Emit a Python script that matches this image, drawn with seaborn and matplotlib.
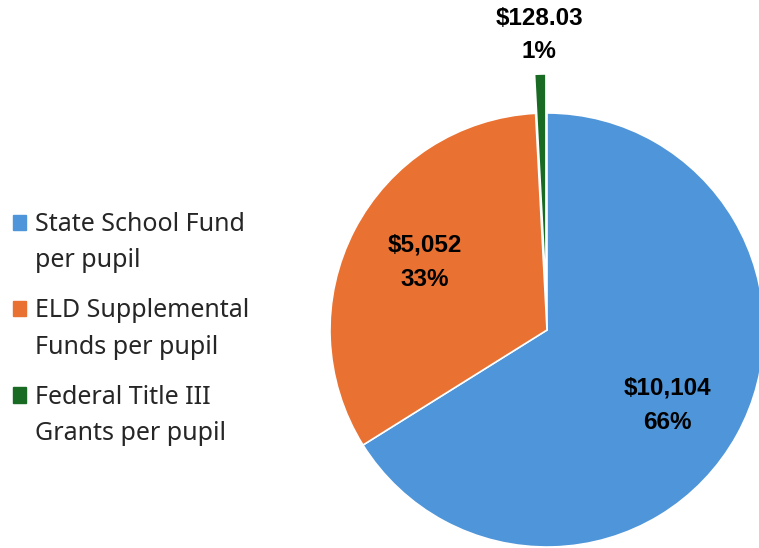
import matplotlib.pyplot as plt
import seaborn as sns
import numpy as np
from matplotlib.legend_handler import HandlerPatch

sns.set_theme(style="white")
plt.rcParams["font.family"] = ["Noto Sans", "DejaVu Sans"]

# --- Data ---
categories = ["State School Fund\nper pupil", "ELD Supplemental\nFunds per pupil",
              "Federal Title III\nGrants per pupil"]
values = [10104, 5052, 128.03]
value_labels = ["$10,104", "$5,052", "$128.03"]
colors = ["#4E95D9", "#E97132", "#196B24"]
explode = [0.0, 0.0, 0.18]

fig = plt.figure(figsize=(7.59, 5.48), dpi=100)
# square axes positioned so the pie sits on the right like the reference
side = 2.8 * 217
ax = fig.add_axes([(547 - side / 2) / 759, (218 - side / 2) / 548, side / 759, side / 548])

wedges, _ = ax.pie(values, colors=colors, startangle=90, counterclock=False,
                   explode=explode, radius=1,
                   wedgeprops=dict(edgecolor="white", linewidth=1.2))
ax.set_xlim(-1.4, 1.4)
ax.set_ylim(-1.4, 1.4)
ax.axis("off")

total = sum(values)
label_r = [0.655, 0.645, 1.36]
label_shift = [-3, -1.5, 0]  # small angular nudge (degrees)
for w, v, lab, r, s in zip(wedges, values, value_labels, label_r, label_shift):
    ang = np.deg2rad((w.theta1 + w.theta2) / 2 + s)
    pct = f"{v / total * 100:.0f}%"
    ax.text(r * np.cos(ang), r * np.sin(ang), f"{lab}\n{pct}", ha="center", va="center",
            fontsize=17.5, fontweight="bold", family=["Liberation Sans"], linespacing=1.6,
            color="black")


# legend square sits next to the first line of each two-line label
def top_square(legend, orig_handle, xdescent, ydescent, width, height, fontsize):
    return plt.Rectangle((-xdescent, -ydescent + 15), width, height)


handles = [plt.Rectangle((0, 0), 1, 1, color=c) for c in colors]
leg = fig.legend(handles, categories, loc="center left", bbox_to_anchor=(0.0, 0.40),
                 frameon=False, fontsize=18, handlelength=0.55, handleheight=0.55,
                 handletextpad=0.35, labelspacing=1.0, borderaxespad=0.1,
                 handler_map={plt.Rectangle: HandlerPatch(patch_func=top_square)})
for t in leg.get_texts():
    t.set_linespacing(1.6)

fig.savefig("out.png", dpi=100)
